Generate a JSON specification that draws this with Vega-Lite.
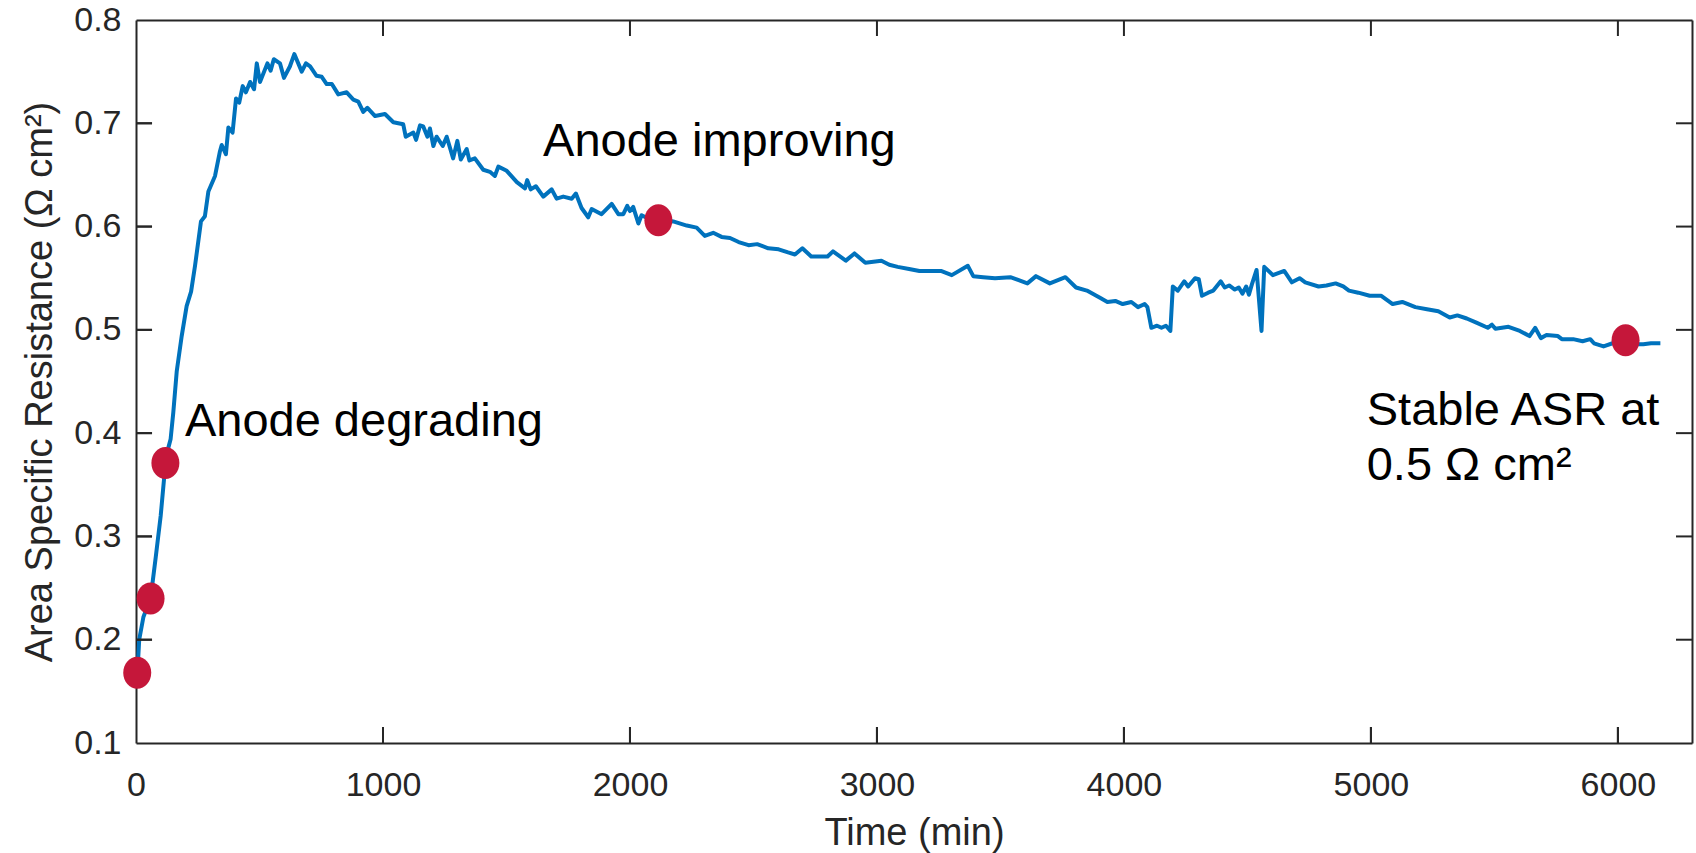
{
  "$schema": "https://vega.github.io/schema/vega-lite/v6.json",
  "width": 1556,
  "height": 723,
  "autosize": {"type": "none"},
  "padding": {"left": 136, "top": 20, "right": 4, "bottom": 110},
  "background": "white",
  "config": {
    "view": {"stroke": null},
    "font": "Liberation Sans",
    "axis": {
      "domainColor": "#262626",
      "domainWidth": 2,
      "grid": false,
      "labelFont": "Liberation Sans",
      "labelFontSize": 34,
      "labelColor": "#262626",
      "titleFont": "Liberation Sans",
      "titleFontSize": 38,
      "titleFontWeight": "normal",
      "titleColor": "#262626"
    }
  },
  "datasets": {
    "asr": [
      {"t": 5, "v": 0.165}, {"t": 13, "v": 0.2}, {"t": 30, "v": 0.222}, {"t": 59, "v": 0.24},
      {"t": 80, "v": 0.28}, {"t": 100, "v": 0.32}, {"t": 119, "v": 0.37}, {"t": 130, "v": 0.385},
      {"t": 140, "v": 0.394}, {"t": 151, "v": 0.42}, {"t": 165, "v": 0.46}, {"t": 185, "v": 0.494},
      {"t": 205, "v": 0.523}, {"t": 223, "v": 0.537}, {"t": 239, "v": 0.562}, {"t": 263, "v": 0.605},
      {"t": 279, "v": 0.61}, {"t": 293, "v": 0.634}, {"t": 320, "v": 0.649}, {"t": 340, "v": 0.673},
      {"t": 347, "v": 0.679}, {"t": 364, "v": 0.67}, {"t": 374, "v": 0.696}, {"t": 391, "v": 0.691},
      {"t": 405, "v": 0.724}, {"t": 418, "v": 0.72}, {"t": 432, "v": 0.736}, {"t": 445, "v": 0.73},
      {"t": 462, "v": 0.74}, {"t": 478, "v": 0.733}, {"t": 489, "v": 0.758}, {"t": 502, "v": 0.74},
      {"t": 532, "v": 0.758}, {"t": 545, "v": 0.751}, {"t": 558, "v": 0.762}, {"t": 583, "v": 0.758},
      {"t": 599, "v": 0.744}, {"t": 623, "v": 0.755}, {"t": 641, "v": 0.767}, {"t": 671, "v": 0.75},
      {"t": 688, "v": 0.758}, {"t": 705, "v": 0.755}, {"t": 731, "v": 0.746}, {"t": 752, "v": 0.745},
      {"t": 772, "v": 0.738}, {"t": 793, "v": 0.738}, {"t": 819, "v": 0.728}, {"t": 853, "v": 0.73},
      {"t": 880, "v": 0.723}, {"t": 900, "v": 0.721}, {"t": 920, "v": 0.711}, {"t": 937, "v": 0.715},
      {"t": 968, "v": 0.707}, {"t": 1008, "v": 0.709}, {"t": 1042, "v": 0.701}, {"t": 1082, "v": 0.699},
      {"t": 1092, "v": 0.687}, {"t": 1123, "v": 0.691}, {"t": 1134, "v": 0.684}, {"t": 1150, "v": 0.698},
      {"t": 1163, "v": 0.697}, {"t": 1180, "v": 0.687}, {"t": 1190, "v": 0.695}, {"t": 1204, "v": 0.678},
      {"t": 1217, "v": 0.687}, {"t": 1242, "v": 0.678}, {"t": 1258, "v": 0.687}, {"t": 1284, "v": 0.666},
      {"t": 1301, "v": 0.683}, {"t": 1315, "v": 0.665}, {"t": 1339, "v": 0.675}, {"t": 1350, "v": 0.664},
      {"t": 1372, "v": 0.666}, {"t": 1406, "v": 0.655}, {"t": 1433, "v": 0.653}, {"t": 1453, "v": 0.649},
      {"t": 1467, "v": 0.658}, {"t": 1501, "v": 0.654}, {"t": 1542, "v": 0.643}, {"t": 1575, "v": 0.637},
      {"t": 1584, "v": 0.645}, {"t": 1598, "v": 0.636}, {"t": 1619, "v": 0.639}, {"t": 1649, "v": 0.629},
      {"t": 1683, "v": 0.636}, {"t": 1703, "v": 0.627}, {"t": 1730, "v": 0.629}, {"t": 1764, "v": 0.627},
      {"t": 1781, "v": 0.632}, {"t": 1804, "v": 0.618}, {"t": 1831, "v": 0.609}, {"t": 1845, "v": 0.617},
      {"t": 1885, "v": 0.612}, {"t": 1926, "v": 0.622}, {"t": 1953, "v": 0.612}, {"t": 1973, "v": 0.612},
      {"t": 1989, "v": 0.62}, {"t": 2000, "v": 0.615}, {"t": 2013, "v": 0.619}, {"t": 2034, "v": 0.603},
      {"t": 2047, "v": 0.611}, {"t": 2080, "v": 0.607}, {"t": 2115, "v": 0.606}, {"t": 2150, "v": 0.606},
      {"t": 2175, "v": 0.605}, {"t": 2230, "v": 0.601}, {"t": 2270, "v": 0.599}, {"t": 2303, "v": 0.591},
      {"t": 2337, "v": 0.594}, {"t": 2371, "v": 0.59}, {"t": 2405, "v": 0.589}, {"t": 2440, "v": 0.585},
      {"t": 2480, "v": 0.582}, {"t": 2515, "v": 0.583}, {"t": 2560, "v": 0.579}, {"t": 2602, "v": 0.578},
      {"t": 2640, "v": 0.575}, {"t": 2668, "v": 0.573}, {"t": 2698, "v": 0.579}, {"t": 2734, "v": 0.571},
      {"t": 2770, "v": 0.571}, {"t": 2800, "v": 0.571}, {"t": 2822, "v": 0.576}, {"t": 2874, "v": 0.567},
      {"t": 2909, "v": 0.574}, {"t": 2953, "v": 0.565}, {"t": 3018, "v": 0.567}, {"t": 3050, "v": 0.563},
      {"t": 3084, "v": 0.561}, {"t": 3130, "v": 0.559}, {"t": 3172, "v": 0.557}, {"t": 3220, "v": 0.557},
      {"t": 3259, "v": 0.557}, {"t": 3303, "v": 0.553}, {"t": 3368, "v": 0.562}, {"t": 3390, "v": 0.552},
      {"t": 3430, "v": 0.551}, {"t": 3478, "v": 0.55}, {"t": 3540, "v": 0.551}, {"t": 3609, "v": 0.545},
      {"t": 3644, "v": 0.552}, {"t": 3700, "v": 0.545}, {"t": 3763, "v": 0.551}, {"t": 3806, "v": 0.541},
      {"t": 3850, "v": 0.538}, {"t": 3903, "v": 0.531}, {"t": 3933, "v": 0.527}, {"t": 3965, "v": 0.528},
      {"t": 3995, "v": 0.525}, {"t": 4030, "v": 0.527}, {"t": 4057, "v": 0.522}, {"t": 4084, "v": 0.525},
      {"t": 4095, "v": 0.522}, {"t": 4111, "v": 0.502}, {"t": 4134, "v": 0.504}, {"t": 4152, "v": 0.502},
      {"t": 4170, "v": 0.504}, {"t": 4188, "v": 0.499}, {"t": 4198, "v": 0.542}, {"t": 4218, "v": 0.538},
      {"t": 4244, "v": 0.547}, {"t": 4260, "v": 0.542}, {"t": 4288, "v": 0.55}, {"t": 4303, "v": 0.549},
      {"t": 4316, "v": 0.533}, {"t": 4341, "v": 0.536}, {"t": 4362, "v": 0.538}, {"t": 4392, "v": 0.547},
      {"t": 4408, "v": 0.541}, {"t": 4426, "v": 0.543}, {"t": 4449, "v": 0.539}, {"t": 4465, "v": 0.541},
      {"t": 4480, "v": 0.535}, {"t": 4495, "v": 0.542}, {"t": 4506, "v": 0.534}, {"t": 4518, "v": 0.544},
      {"t": 4537, "v": 0.558}, {"t": 4557, "v": 0.499}, {"t": 4568, "v": 0.561}, {"t": 4603, "v": 0.553},
      {"t": 4649, "v": 0.557}, {"t": 4680, "v": 0.546}, {"t": 4711, "v": 0.55}, {"t": 4734, "v": 0.546},
      {"t": 4788, "v": 0.542}, {"t": 4820, "v": 0.543}, {"t": 4857, "v": 0.545}, {"t": 4888, "v": 0.542},
      {"t": 4911, "v": 0.538}, {"t": 4949, "v": 0.536}, {"t": 4995, "v": 0.533}, {"t": 5042, "v": 0.533},
      {"t": 5088, "v": 0.525}, {"t": 5127, "v": 0.527}, {"t": 5180, "v": 0.522}, {"t": 5227, "v": 0.52},
      {"t": 5273, "v": 0.518}, {"t": 5319, "v": 0.512}, {"t": 5350, "v": 0.514}, {"t": 5388, "v": 0.511},
      {"t": 5427, "v": 0.507}, {"t": 5473, "v": 0.502}, {"t": 5490, "v": 0.505}, {"t": 5504, "v": 0.501},
      {"t": 5557, "v": 0.503}, {"t": 5603, "v": 0.499}, {"t": 5642, "v": 0.494}, {"t": 5665, "v": 0.502},
      {"t": 5688, "v": 0.492}, {"t": 5711, "v": 0.495}, {"t": 5757, "v": 0.494}, {"t": 5773, "v": 0.491},
      {"t": 5819, "v": 0.491}, {"t": 5857, "v": 0.489}, {"t": 5888, "v": 0.491}, {"t": 5903, "v": 0.487},
      {"t": 5942, "v": 0.484}, {"t": 5990, "v": 0.488}, {"t": 6031, "v": 0.49}, {"t": 6070, "v": 0.486},
      {"t": 6103, "v": 0.486}, {"t": 6134, "v": 0.487}, {"t": 6172, "v": 0.487}
    ],
    "markers": [
      {"t": 5, "v": 0.168}, {"t": 59, "v": 0.24}, {"t": 119, "v": 0.371},
      {"t": 2115, "v": 0.606}, {"t": 6031, "v": 0.49}
    ],
    "notes": [
      {"label": "Anode degrading", "t": 198, "v": 0.397},
      {"label": "Anode improving", "t": 1648, "v": 0.668},
      {"label": "Stable ASR at", "t": 4983, "v": 0.408},
      {"label": "0.5 Ω cm²", "t": 4983, "v": 0.355}
    ],
    "timeTicks": [
      {"t": 1000}, {"t": 2000}, {"t": 3000}, {"t": 4000}, {"t": 5000}, {"t": 6000}
    ],
    "asrTicks": [
      {"v": 0.2}, {"v": 0.3}, {"v": 0.4}, {"v": 0.5}, {"v": 0.6}, {"v": 0.7}
    ]
  },
  "resolve": {"axis": {"x": "independent", "y": "independent"}},
  "layer": [
    {
      "data": {"name": "asr"},
      "mark": {"type": "line", "color": "#0072BD", "strokeWidth": 4, "strokeJoin": "round"},
      "encoding": {
        "x": {
          "field": "t", "type": "quantitative",
          "scale": {"domain": [0, 6300], "nice": false, "zero": false},
          "axis": {
            "orient": "bottom",
            "values": [0, 1000, 2000, 3000, 4000, 5000, 6000],
            "format": "d",
            "ticks": false,
            "tickSize": 0,
            "labelPadding": 25,
            "labelFlush": false,
            "labelBaseline": "top",
            "title": "Time (min)",
            "titlePadding": 12
          }
        },
        "y": {
          "field": "v", "type": "quantitative",
          "scale": {"domain": [0.1, 0.8], "nice": false, "zero": false},
          "axis": {
            "orient": "left",
            "values": [0.1, 0.2, 0.3, 0.4, 0.5, 0.6, 0.7, 0.8],
            "format": ".1f",
            "ticks": false,
            "tickSize": 0,
            "labelPadding": 15,
            "labelFlush": false,
            "title": "Area Specific Resistance (Ω cm²)",
            "titlePadding": 14
          }
        }
      }
    },
    {
      "data": {"name": "markers"},
      "mark": {
        "type": "point",
        "filled": true,
        "opacity": 1,
        "color": "#C5173A",
        "size": 1024,
        "shape": "M -0.875 0 A 0.875 1 0 1 0 0.875 0 A 0.875 1 0 1 0 -0.875 0 Z"
      },
      "encoding": {
        "x": {
          "field": "t", "type": "quantitative",
          "scale": {"domain": [0, 6300], "nice": false, "zero": false},
          "axis": {"orient": "top", "ticks": false, "labels": false, "title": null}
        },
        "y": {
          "field": "v", "type": "quantitative",
          "scale": {"domain": [0.1, 0.8], "nice": false, "zero": false},
          "axis": {"orient": "right", "ticks": false, "labels": false, "title": null}
        }
      }
    },
    {
      "data": {"name": "timeTicks"},
      "mark": {"type": "tick", "orient": "vertical", "size": 16, "thickness": 2, "yOffset": -8, "color": "#262626", "opacity": 1},
      "encoding": {
        "x": {"field": "t", "type": "quantitative", "axis": null},
        "y": {"datum": 0.1, "type": "quantitative", "axis": null}
      }
    },
    {
      "data": {"name": "timeTicks"},
      "mark": {"type": "tick", "orient": "vertical", "size": 16, "thickness": 2, "yOffset": 8, "color": "#262626", "opacity": 1},
      "encoding": {
        "x": {"field": "t", "type": "quantitative", "axis": null},
        "y": {"datum": 0.8, "type": "quantitative", "axis": null}
      }
    },
    {
      "data": {"name": "asrTicks"},
      "mark": {"type": "tick", "orient": "horizontal", "size": 16, "thickness": 2, "xOffset": 8, "color": "#262626", "opacity": 1},
      "encoding": {
        "y": {"field": "v", "type": "quantitative", "axis": null},
        "x": {"datum": 0, "type": "quantitative", "axis": null}
      }
    },
    {
      "data": {"name": "asrTicks"},
      "mark": {"type": "tick", "orient": "horizontal", "size": 16, "thickness": 2, "xOffset": -8, "color": "#262626", "opacity": 1},
      "encoding": {
        "y": {"field": "v", "type": "quantitative", "axis": null},
        "x": {"datum": 6300, "type": "quantitative", "axis": null}
      }
    },
    {
      "data": {"name": "timeTicks"},
      "mark": {"type": "rule", "color": "#262626", "strokeWidth": 2},
      "encoding": {
        "x": {"field": "t", "type": "quantitative", "axis": null},
        "y": {"datum": 0.1, "type": "quantitative", "axis": null},
        "y2": {"datum": 0.1155}
      }
    },
    {
      "data": {"name": "asrTicks"},
      "mark": {"type": "rule", "color": "#262626", "strokeWidth": 2},
      "encoding": {
        "y": {"field": "v", "type": "quantitative", "axis": null},
        "x": {"datum": 0, "type": "quantitative", "axis": null},
        "x2": {"datum": 65}
      }
    },
    {
      "data": {"name": "notes"},
      "mark": {"type": "text", "align": "left", "baseline": "alphabetic", "font": "Liberation Sans", "fontSize": 47, "color": "#000000"},
      "encoding": {
        "x": {"field": "t", "type": "quantitative", "scale": {"domain": [0, 6300], "nice": false, "zero": false}, "axis": null},
        "y": {"field": "v", "type": "quantitative", "scale": {"domain": [0.1, 0.8], "nice": false, "zero": false}, "axis": null},
        "text": {"field": "label"}
      }
    }
  ]
}
